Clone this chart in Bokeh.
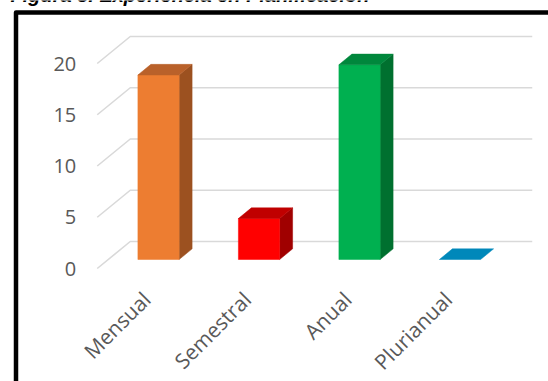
from math import pi

from bokeh.core.properties import value
from bokeh.embed import file_html
from bokeh.models import FixedTicker, LinearAxis, Range1d
from bokeh.plotting import figure
from bokeh.resources import INLINE

# --- data -------------------------------------------------------------
categories = ["Mensual", "Semestral", "Anual", "Plurianual"]
counts = [18, 4, 19, 0]
y_ticks = [0, 5, 10, 15, 20]
title_text = "Figura 8. Experiencia en Planificación"

front_colors = ["#ED7D31", "#FF0000", "#00B050", "#0088BA"]
top_colors = ["#B9612A", "#C00000", "#00873C", "#0088BA"]
side_colors = ["#9C5120", "#A00000", "#00702F", "#006A93"]

# --- canvas / projection ----------------------------------------------
W, H = 548, 381
X0, KX = 146.0, 100.5       # pixel of category 0 centre, pixels per category
Y0, KY = 268.0, 10.25       # pixel of value 0 on the front plane, pixels per unit

DX = 33.0 / KX              # full depth of the 3-D box in data units
DY = 27.0 / KY
Z0, Z1 = 1.0 / 3.0, 0.727   # depth span of the columns
BAR_W = 0.41
X_LEFT, X_RIGHT = -0.49, len(categories) - 0.49


def px2x(px):
    return (px - X0) / KX


def py2y(py):
    return (Y0 - py) / KY


p = figure(
    width=W, height=H,
    x_range=Range1d(px2x(0), px2x(W)),
    y_range=Range1d(py2y(H), py2y(0)),
    x_axis_type=None, y_axis_type=None,
    output_backend="svg", toolbar_location=None,
    min_border=0, outline_line_color=None,
    background_fill_color="white", border_fill_color="white",
)
p.xgrid.visible = False
p.ygrid.visible = False


def proj(x, y, z):
    return x + z * DX, y + z * DY


# --- walls: gridlines on the side and back wall -------------------------
gx, gy = [], []
for t in y_ticks:
    a = proj(X_LEFT, t, 0)
    b = proj(X_LEFT, t, 1)
    c = proj(X_RIGHT, t, 1)
    gx.append([a[0], b[0], c[0]])
    gy.append([a[1], b[1], c[1]])
p.multi_line(gx, gy, line_color="#D9D9D9", line_width=1.6)

# --- 3-D columns -------------------------------------------------------
for i, v in enumerate(counts):
    xl, xr = i - BAR_W / 2 + 0.01, i + BAR_W / 2 + 0.01
    f = [proj(xl, 0, Z0), proj(xr, 0, Z0), proj(xr, v, Z0), proj(xl, v, Z0)]
    t = [proj(xl, v, Z0), proj(xr, v, Z0), proj(xr, v, Z1), proj(xl, v, Z1)]
    s = [proj(xr, 0, Z0), proj(xr, 0, Z1), proj(xr, v, Z1), proj(xr, v, Z0)]
    if v > 0:
        p.patch([q[0] for q in s], [q[1] for q in s], fill_color=side_colors[i],
                line_color=side_colors[i], line_width=0.5)
        p.patch([q[0] for q in f], [q[1] for q in f], fill_color=front_colors[i],
                line_color=front_colors[i], line_width=0.5)
    p.patch([q[0] for q in t], [q[1] for q in t], fill_color=top_colors[i],
            line_color=top_colors[i], line_width=0.5)

# --- axes --------------------------------------------------------------
yaxis = LinearAxis(
    fixed_location=X_LEFT,
    ticker=FixedTicker(ticks=y_ticks),
    axis_line_color=None,
    major_tick_line_color=None, minor_tick_line_color=None,
    major_tick_in=0, major_tick_out=0,
    major_label_standoff=21,
    major_label_text_font="Open Sans",
    major_label_text_font_size="20px",
    major_label_text_color="#595959",
)
p.add_layout(yaxis, "left")

xaxis = LinearAxis(
    fixed_location=0,
    ticker=FixedTicker(ticks=list(range(len(categories)))),
    major_label_overrides={i: c for i, c in enumerate(categories)},
    major_label_orientation=pi / 4,
    axis_line_color=None,
    major_tick_line_color=None, minor_tick_line_color=None,
    major_tick_in=0, major_tick_out=0,
    major_label_standoff=27,
    major_label_text_font="Open Sans",
    major_label_text_font_size="21px",
    major_label_text_color="#595959",
)
p.add_layout(xaxis, "below")

# --- frame border and caption ------------------------------------------
p.line([px2x(15.5), px2x(15.5), px2x(W + 20)], [py2y(H + 20), py2y(12), py2y(12)],
       line_color="black", line_width=4.5, line_join="round")

p.text(x=[px2x(10)], y=[py2y(-6)], text=[title_text],
       text_font=value("Liberation Sans"), text_font_style="bold italic",
       text_font_size="20px", text_color="black",
       text_align="left", text_baseline="alphabetic")

open("out.html", "w").write(file_html(p, INLINE))
